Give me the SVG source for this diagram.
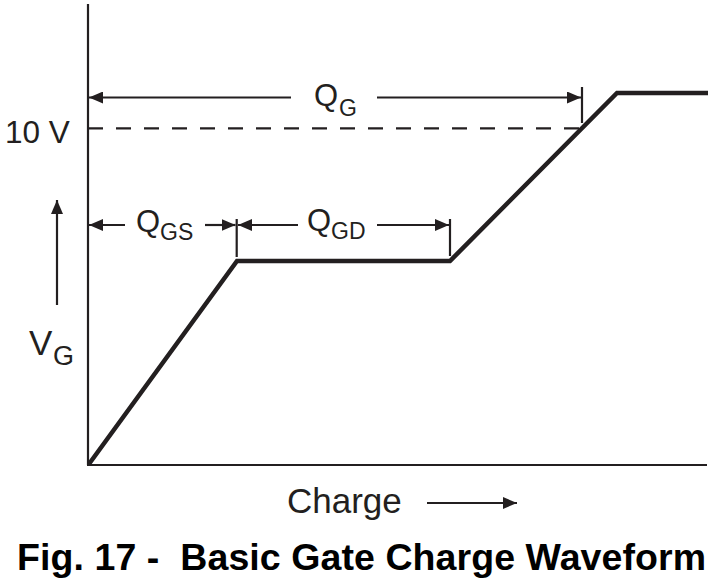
<svg xmlns="http://www.w3.org/2000/svg" width="720" height="578" viewBox="0 0 720 578">
<style>
  .ln { stroke:#231f20; fill:none; stroke-width:2.2; }
  .wave { stroke:#231f20; fill:none; stroke-width:4.5; stroke-linejoin:miter; stroke-linecap:butt; }
  .dash { stroke:#231f20; fill:none; stroke-width:2.2; stroke-dasharray:15 13; }
  .arr { stroke:#231f20; fill:none; stroke-width:2.2; marker-end:url(#ah); }
  .t { font-family:"Liberation Sans", Arial, Helvetica, sans-serif; fill:#231f20; }
  .title { font-family:"Liberation Sans", Arial, Helvetica, sans-serif; font-weight:bold; fill:#000; font-size:37.5px; white-space:pre; }
</style>
<defs>
  <marker id="ah" viewBox="0 0 14 12" refX="14" refY="6" markerWidth="14" markerHeight="12" markerUnits="userSpaceOnUse" orient="auto">
    <path d="M0,0 L14,6 L0,12 z" fill="#231f20"/>
  </marker>
</defs>

<g id="axes">
  <line class="ln" x1="88" y1="4" x2="88" y2="465"/>
  <line class="ln" x1="87" y1="465" x2="707" y2="465"/>
</g>

<g id="waveform">
  <polyline class="wave" points="89,464 237,261 450,261 617,93 708,93"/>
</g>

<g id="ten-volt">
  <line class="dash" x1="88" y1="128.3" x2="580" y2="128.3"/>
  <text class="t" x="5" y="143" font-size="31.5">10 V</text>
</g>

<g id="connectors">
  <line class="arr" x1="291" y1="97.5" x2="89" y2="97.5"/>
  <line class="arr" x1="377" y1="97.5" x2="581" y2="97.5"/>
  <line class="ln" x1="582" y1="87" x2="582" y2="123"/>

  <line class="arr" x1="125" y1="225" x2="89" y2="225"/>
  <line class="arr" x1="205" y1="225" x2="235.5" y2="225"/>
  <line class="ln" x1="236.7" y1="219" x2="236.7" y2="257"/>

  <line class="arr" x1="298" y1="225" x2="238" y2="225"/>
  <line class="arr" x1="377" y1="225" x2="449" y2="225"/>
  <line class="ln" x1="450" y1="219" x2="450" y2="256"/>

  <line class="arr" x1="57" y1="305" x2="57" y2="200"/>
  <line class="arr" x1="427" y1="503" x2="517" y2="503"/>
</g>

<g id="label-QG">
  <text class="t"><tspan x="314" y="106" font-size="31">Q</tspan><tspan x="339" y="116" font-size="23">G</tspan></text>
</g>
<g id="label-QGS">
  <text class="t"><tspan x="136" y="232" font-size="31">Q</tspan><tspan x="160" y="240" font-size="23">GS</tspan></text>
</g>
<g id="label-QGD">
  <text class="t"><tspan x="307" y="231" font-size="31">Q</tspan><tspan x="331" y="239" font-size="23">GD</tspan></text>
</g>
<g id="label-VG">
  <text class="t"><tspan x="29" y="355" font-size="35">V</tspan><tspan x="53" y="365" font-size="27">G</tspan></text>
</g>
<g id="label-charge">
  <text class="t" x="287" y="513" font-size="35">Charge</text>
</g>
<g id="caption">
  <text class="title" x="17" y="570" xml:space="preserve" textLength="689">Fig. 17 -  Basic Gate Charge Waveform</text>
</g>
</svg>
